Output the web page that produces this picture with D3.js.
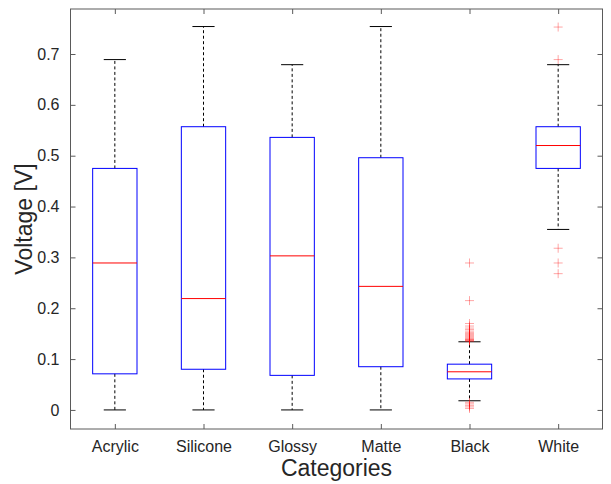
<!DOCTYPE html>
<html>
<head>
<meta charset="utf-8">
<script src="https://cdn.jsdelivr.net/npm/d3@7"></script>
<style>
  html, body { margin: 0; padding: 0; background: #fff; }
  svg { display: block; font-family: "Liberation Sans", Arial, Helvetica, sans-serif; }
</style>
</head>
<body>
<svg id="chart" width="611" height="484"></svg>
<script>
// ---- data ----
const categories   = ["Acrylic", "Silicone", "Glossy", "Matte", "Black", "White"];
const whiskerLow   = [0.000, 0.000, 0.000, 0.000, 0.018, 0.355];
const q1           = [0.071, 0.080, 0.068, 0.085, 0.061, 0.475];
const medians      = [0.289, 0.219, 0.303, 0.243, 0.075, 0.520];
const q3           = [0.475, 0.557, 0.536, 0.496, 0.090, 0.557];
const whiskerHigh  = [0.689, 0.754, 0.679, 0.754, 0.134, 0.679];
const outliers     = [
  [],
  [],
  [],
  [],
  [0.289, 0.215, 0.170, 0.165, 0.161, 0.158, 0.155, 0.152, 0.150, 0.148, 0.146, 0.144,
   0.142, 0.140, 0.139, 0.138, 0.137, 0.136, 0.135, 0.015, 0.012, 0.009, 0.006, 0.003],
  [0.753, 0.689, 0.318, 0.289, 0.268]
];
const yTicks = [0, 0.1, 0.2, 0.3, 0.4, 0.5, 0.6, 0.7];
const yTickLabels = ["0", "0.1", "0.2", "0.3", "0.4", "0.5", "0.6", "0.7"];
const xLabel = "Categories";
const yLabel = "Voltage [V]";

// ---- layout ----
const svg = d3.select("#chart");
const L = 70.5, R = 602.5, T = 9, B = 429;

const x = d3.scaleLinear().domain([0.5, 6.5]).range([L, R]);
const y = d3.scaleLinear().domain([-0.0375, 0.7885]).range([B, T]);

const boxW = 0.5, capW = 0.25;
const axisColor = "#5a5a5a";

// axes box
svg.append("rect")
  .attr("x", L).attr("y", T).attr("width", R - L).attr("height", B - T)
  .attr("fill", "none").attr("stroke", axisColor).attr("stroke-width", 1);

// y axis (left, inward ticks) and right mirror
const yAxisL = d3.axisLeft(y).tickValues(yTicks).tickSizeInner(-5).tickSizeOuter(0)
  .tickPadding(11).tickFormat((d, i) => yTickLabels[i]);
const gL = svg.append("g").attr("transform", `translate(${L},0)`).call(yAxisL);
const yAxisR = d3.axisRight(y).tickValues(yTicks).tickSizeInner(-5).tickSizeOuter(0).tickFormat("");
const gR = svg.append("g").attr("transform", `translate(${R},0)`).call(yAxisR);

// x axis (bottom, inward ticks) and top mirror
const xAxisB = d3.axisBottom(x).tickValues(d3.range(1, categories.length + 1)).tickSizeInner(-5)
  .tickSizeOuter(0).tickPadding(12).tickFormat((d) => categories[d - 1]);
const gB = svg.append("g").attr("transform", `translate(0,${B})`).call(xAxisB);
const xAxisT = d3.axisTop(x).tickValues(d3.range(1, categories.length + 1)).tickSizeInner(-5)
  .tickSizeOuter(0).tickFormat("");
const gT = svg.append("g").attr("transform", `translate(0,${T})`).call(xAxisT);

[gL, gR, gB, gT].forEach(g => {
  g.select(".domain").remove();
  g.selectAll(".tick line").attr("stroke", axisColor);
  g.selectAll("text").attr("fill", "#262626").style("font-size", "16px")
    .style("font-family", "'Liberation Sans', Arial, sans-serif");
});

// boxes
const data = categories.map((c, i) => ({
  pos: i + 1, lo: whiskerLow[i], q1: q1[i], med: medians[i], q3: q3[i], hi: whiskerHigh[i], out: outliers[i]
}));

const g = svg.append("g");
data.forEach(d => {
  const cx = x(d.pos);
  // whiskers (dashed)
  g.append("line").attr("x1", cx).attr("x2", cx).attr("y1", y(d.q3)).attr("y2", y(d.hi))
    .attr("stroke", "#000").attr("stroke-width", 1).attr("stroke-dasharray", "3,2.5");
  g.append("line").attr("x1", cx).attr("x2", cx).attr("y1", y(d.q1)).attr("y2", y(d.lo))
    .attr("stroke", "#000").attr("stroke-width", 1).attr("stroke-dasharray", "3,2.5");
  // caps
  [d.hi, d.lo].forEach(v => {
    g.append("line").attr("x1", x(d.pos - capW / 2)).attr("x2", x(d.pos + capW / 2))
      .attr("y1", y(v)).attr("y2", y(v)).attr("stroke", "#000").attr("stroke-width", 1);
  });
  // box
  g.append("rect").attr("x", x(d.pos - boxW / 2)).attr("width", x(d.pos + boxW / 2) - x(d.pos - boxW / 2))
    .attr("y", y(d.q3)).attr("height", y(d.q1) - y(d.q3))
    .attr("fill", "none").attr("stroke", "#0000ff").attr("stroke-width", 1);
  // median
  g.append("line").attr("x1", x(d.pos - boxW / 2)).attr("x2", x(d.pos + boxW / 2))
    .attr("y1", y(d.med)).attr("y2", y(d.med)).attr("stroke", "#ff0000").attr("stroke-width", 1);
  // outliers
  d.out.forEach(v => {
    const oy = y(v), s = 4.5;
    g.append("path").attr("d", `M${cx - s},${oy}H${cx + s}M${cx},${oy - s}V${oy + s}`)
      .attr("stroke", "#ff0000").attr("stroke-opacity", 0.35).attr("stroke-width", 1).attr("fill", "none");
  });
});

// axis labels
svg.append("text").attr("x", (L + R) / 2).attr("y", 476).attr("text-anchor", "middle")
  .attr("fill", "#262626").style("font-size", "23px").text(xLabel);
svg.append("text").attr("transform", `translate(32,${(T + B) / 2}) rotate(-90)`).attr("text-anchor", "middle")
  .attr("fill", "#262626").style("font-size", "23px").text(yLabel);
</script>
</body>
</html>
